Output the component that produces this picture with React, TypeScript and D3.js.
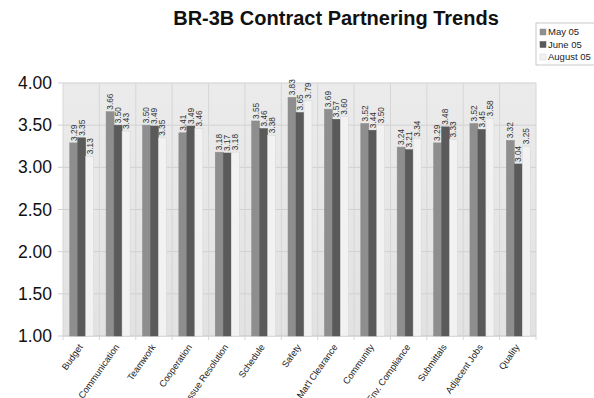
import React from "react";
import * as d3 from "d3";

const categories = ["Budget","Communication","Teamwork","Cooperation","Issue Resolution","Schedule","Safety","Mat'l Clearance","Community","Env. Compliance","Submittals","Adjacent Jobs","Quality"];
const seriesNames = ["May 05","June 05","August 05"];
const may05 = [3.29,3.66,3.50,3.41,3.18,3.55,3.83,3.69,3.52,3.24,3.29,3.52,3.32];
const june05 = [3.35,3.50,3.49,3.49,3.17,3.46,3.65,3.57,3.44,3.21,3.48,3.45,3.04];
const aug05 = [3.13,3.43,3.35,3.46,3.18,3.38,3.79,3.60,3.50,3.34,3.33,3.58,3.25];
const yTicks = [1.0,1.5,2.0,2.5,3.0,3.5,4.0];

const colors = ["#8e8e8e","#5a5a5a","#f2f2f2"];
const strokes = ["#8e8e8e","#5a5a5a","#d4d4d4"];

export default function App() {
  const W = 594, H = 398;
  const left = 63, right = 536, top = 83, bottom = 336;
  const x = d3.scaleBand<string>().domain(categories).range([left, right]).paddingInner(0).paddingOuter(0);
  const y = d3.scaleLinear().domain([1, 4]).range([bottom, top]);
  const data = [may05, june05, aug05];
  const bw = 8;
  const groupW = bw * 3;
  return (
    <svg width={W} height={H} style={{ position: "absolute", left: 0, top: 0, fontFamily: "Liberation Sans, Arial, sans-serif" }}>
      <rect x={0} y={0} width={W} height={H} fill="#ffffff" />
      <defs>
        <linearGradient id="bg" x1="0" y1="0" x2="0" y2="1">
          <stop offset="0" stopColor="#ebebeb" />
          <stop offset="1" stopColor="#e2e2e2" />
        </linearGradient>
      </defs>
      <rect x={left} y={top} width={right - left} height={bottom - top} fill="url(#bg)" />
      {yTicks.map((t) => (
        <g key={t}>
          <line x1={left - 5} x2={right} y1={y(t)} y2={y(t)} stroke="#d0d0d0" strokeWidth={1} />
          <text x={52} y={y(t) + 6} textAnchor="end" fontSize={17.5} fill="#111">{t.toFixed(2)}</text>
        </g>
      ))}
      {categories.map((c) => (
        <line key={"v" + c} x1={x(c)!} x2={x(c)!} y1={top} y2={bottom + 4} stroke="#d6d6d6" strokeWidth={1} />
      ))}
      <line x1={right} x2={right} y1={top} y2={bottom + 4} stroke="#d6d6d6" />
      <line x1={left} x2={right} y1={bottom} y2={bottom} stroke="#cfcfcf" />
      {categories.map((c, i) => {
        const x0 = x(c)! + (x.bandwidth() - groupW) / 2 + 0.5;
        return (
          <g key={c}>
            {data.map((s, j) => {
              const bx = x0 + j * bw;
              const by = y(s[i]);
              return (
                <g key={j}>
                  <rect x={bx} y={by} width={bw} height={bottom - by} fill={colors[j]} stroke={strokes[j]} strokeWidth={0.5} />
                  <text transform={`translate(${bx + bw / 2 + 2.9},${by - 2}) rotate(-90)`} fontSize={8.3} fill="#333">{s[i].toFixed(2)}</text>
                </g>
              );
            })}
            <text transform={`translate(${x(c)! + x.bandwidth() / 2 + 2},${bottom + 11}) rotate(-55)`} textAnchor="end" fontSize={9.2} fill="#222">{c}</text>
          </g>
        );
      })}
      <text x={336} y={25} textAnchor="middle" fontSize={20} fontWeight="bold" fill="#111">BR-3B Contract Partnering Trends</text>
      <g>
        <rect x={536} y={23} width={80} height={42} fill="#fff" stroke="#bbb" strokeWidth={0.8} />
        {seriesNames.map((n, j) => (
          <g key={n}>
            <rect x={540} y={29 + j * 12.5} width={6} height={6} fill={colors[j]} stroke={strokes[j]} strokeWidth={0.5} />
            <text x={548} y={35 + j * 12.5} fontSize={9.5} fill="#222">{n}</text>
          </g>
        ))}
      </g>
    </svg>
  );
}
